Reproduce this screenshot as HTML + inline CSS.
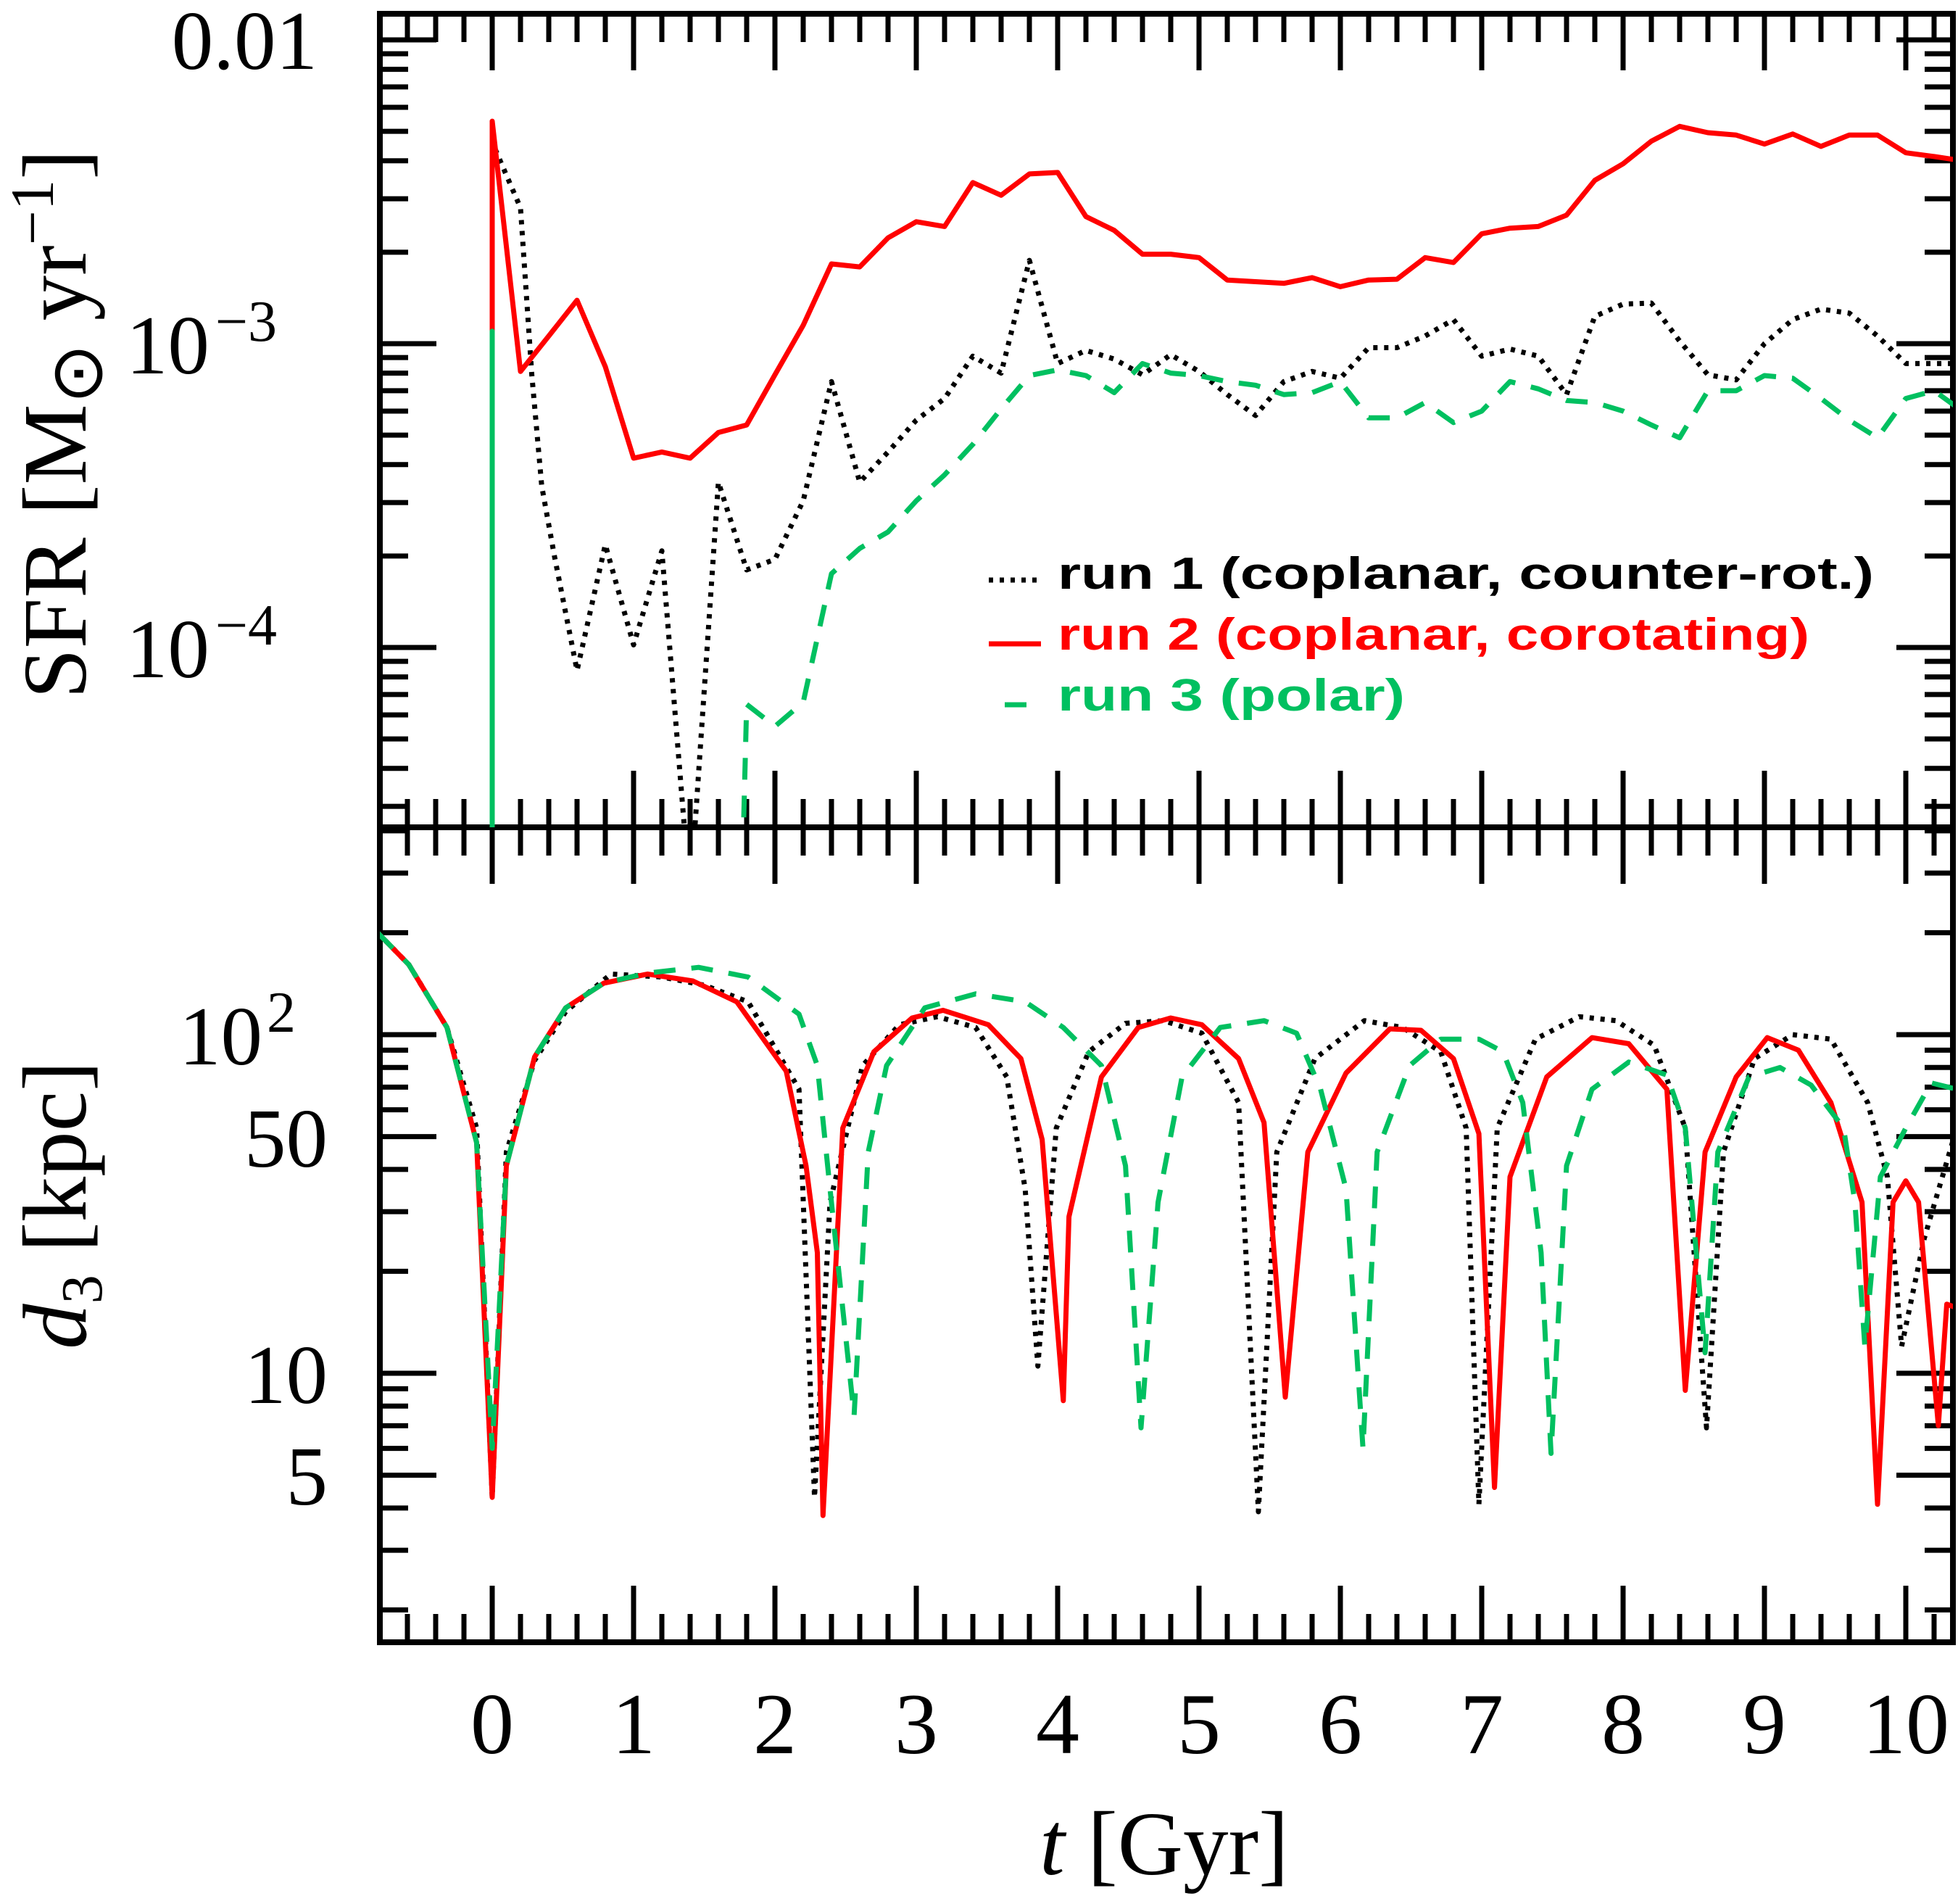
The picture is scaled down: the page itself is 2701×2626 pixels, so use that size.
<!DOCTYPE html>
<html><head><meta charset="utf-8">
<style>
html,body{margin:0;padding:0;background:#fff;}
svg{display:block;}
text{font-family:"Liberation Serif",serif;fill:#000;}
.leg{font-family:"Liberation Sans",sans-serif;font-weight:bold;}
</style></head>
<body>
<svg id="chart" width="2701" height="2626" viewBox="0 0 2701 2626" xmlns="http://www.w3.org/2000/svg">
<defs>
<clipPath id="clipTop"><rect x="524" y="19" width="2170" height="1122"/></clipPath>
<clipPath id="clipBot"><rect x="524" y="1141" width="2170" height="1124"/></clipPath>
</defs>
<g id="axes"></g>
<g id="seriesTop" clip-path="url(#clipTop)"></g>
<g id="seriesBot" clip-path="url(#clipBot)"></g>
<g id="labels">
<text x="438" y="95" font-size="115" text-anchor="end">0.01</text>
<text x="382" y="515" font-size="115" text-anchor="end">10<tspan font-size="80" dy="-45" dx="8">−3</tspan></text>
<text x="382" y="934" font-size="115" text-anchor="end">10<tspan font-size="80" dy="-45" dx="8">−4</tspan></text>
<text x="408" y="1468" font-size="115" text-anchor="end">10<tspan font-size="80" dy="-45" dx="6">2</tspan></text>
<text x="452" y="1609" font-size="115" text-anchor="end">50</text>
<text x="452" y="1935" font-size="115" text-anchor="end">10</text>
<text x="452" y="2075" font-size="115" text-anchor="end">5</text>
<text transform="translate(118,585) rotate(-90)" font-size="125" text-anchor="middle">SFR  [M<tspan font-size="100" dy="22">⊙</tspan><tspan dy="-22">  yr</tspan><tspan font-size="85" dy="-45">−1</tspan><tspan dy="45">]</tspan></text>
<text transform="translate(118,1662) rotate(-90)" font-size="125" text-anchor="middle"><tspan font-style="italic">d</tspan><tspan font-size="80" dy="22">3</tspan><tspan dy="-22">  [kpc]</tspan></text>
<text x="1606" y="2585" font-size="125" text-anchor="middle"><tspan font-style="italic">t</tspan>  [Gyr]</text>
</g>
<g id="legend">
<line x1="1364" y1="800" x2="1436" y2="800" stroke="#000" stroke-width="7" stroke-dasharray="6 9"/>
<text class="leg" x="1459" y="812" font-size="62" textLength="1126" lengthAdjust="spacingAndGlyphs">run 1 (coplanar, counter-rot.)</text>
<line x1="1364" y1="888" x2="1436" y2="888" stroke="#ff0000" stroke-width="7"/>
<text class="leg" x="1459" y="896" font-size="62" style="fill:#ff0000" textLength="1037" lengthAdjust="spacingAndGlyphs">run 2 (coplanar, corotating)</text>
<line x1="1364" y1="972" x2="1436" y2="972" stroke="#00c060" stroke-width="7" stroke-dasharray="30 22" stroke-dashoffset="-22"/>
<text class="leg" x="1459" y="980" font-size="62" style="fill:#00c060" textLength="479" lengthAdjust="spacingAndGlyphs">run 3 (polar)</text>
</g>
</svg>
<script>
// ---------- data: SFR panel ----------
const sfrRedT = [0,0,0.2,0.4,0.6,0.8,1.0,1.2,1.4,1.6,1.8,2.0,2.2,2.4,2.6,2.8,3.0,3.2,3.4,3.6,3.8,4.0,4.2,4.4,4.6,4.8,5.0,5.2,5.4,5.6,5.8,6.0,6.2,6.4,6.6,6.8,7.0,7.2,7.4,7.6,7.8,8.0,8.2,8.4,8.6,8.8,9.0,9.2,9.4,9.6,9.8,10.0,10.2,10.4];
const sfrRedV = [1e-6,5.4e-3,8.1e-4,1.06e-3,1.39e-3,8.4e-4,4.2e-4,4.4e-4,4.2e-4,5.1e-4,5.4e-4,7.9e-4,1.15e-3,1.83e-3,1.79e-3,2.23e-3,2.52e-3,2.43e-3,3.39e-3,3.08e-3,3.62e-3,3.66e-3,2.62e-3,2.36e-3,1.97e-3,1.97e-3,1.92e-3,1.62e-3,1.60e-3,1.58e-3,1.65e-3,1.54e-3,1.62e-3,1.63e-3,1.92e-3,1.85e-3,2.30e-3,2.40e-3,2.43e-3,2.65e-3,3.45e-3,3.91e-3,4.64e-3,5.19e-3,4.95e-3,4.86e-3,4.54e-3,4.90e-3,4.46e-3,4.86e-3,4.86e-3,4.25e-3,4.13e-3,4.0e-3];
const sfrBlackT = [0,0,0.2,0.28,0.35,0.44,0.6,0.8,1.0,1.2,1.4,1.6,1.8,2.0,2.2,2.4,2.6,2.8,3.0,3.2,3.4,3.6,3.8,4.0,4.2,4.4,4.6,4.8,5.0,5.2,5.4,5.6,5.8,6.0,6.2,6.4,6.6,6.8,7.0,7.2,7.4,7.6,7.8,8.0,8.2,8.4,8.6,8.8,9.0,9.2,9.4,9.6,9.8,10.0,10.2,10.4];
const sfrBlackV = [1e-6,4.6e-3,2.8e-3,7.9e-4,3.4e-4,2.0e-4,8.4e-5,2.18e-4,1.02e-4,2.08e-4,1.5e-5,3.5e-4,1.80e-4,1.95e-4,3.04e-4,7.5e-4,3.5e-4,4.4e-4,5.6e-4,6.6e-4,9.1e-4,8.0e-4,1.88e-3,8.6e-4,9.5e-4,8.9e-4,7.9e-4,9.2e-4,8.1e-4,6.8e-4,5.8e-4,7.5e-4,8.1e-4,7.7e-4,9.7e-4,9.7e-4,1.06e-3,1.20e-3,9.1e-4,9.6e-4,9.1e-4,6.8e-4,1.23e-3,1.35e-3,1.36e-3,1.02e-3,7.9e-4,7.6e-4,1.0e-3,1.20e-3,1.30e-3,1.26e-3,1.06e-3,8.6e-4,8.6e-4,8.6e-4];
const sfrGreenT = [0,0,0,1.70,1.8,2.0,2.2,2.4,2.6,2.8,3.0,3.2,3.4,3.6,3.8,4.0,4.2,4.4,4.6,4.8,5.0,5.2,5.4,5.6,5.8,6.0,6.2,6.4,6.6,6.8,7.0,7.2,7.4,7.6,7.8,8.0,8.2,8.4,8.6,8.8,9.0,9.2,9.4,9.6,9.8,10.0,10.2,10.4];
const sfrGreenV = [1e-6,1.1e-3,1e-6,1e-6,6.5e-5,5.5e-5,6.6e-5,1.75e-4,2.12e-4,2.4e-4,3.04e-4,3.7e-4,4.66e-4,6.1e-4,7.85e-4,8.2e-4,7.85e-4,6.9e-4,8.6e-4,8.0e-4,7.85e-4,7.5e-4,7.3e-4,6.8e-4,6.9e-4,7.5e-4,5.7e-4,5.7e-4,6.4e-4,5.5e-4,6.0e-4,7.5e-4,7.1e-4,6.5e-4,6.4e-4,6.0e-4,5.4e-4,4.9e-4,7.0e-4,7.0e-4,7.85e-4,7.7e-4,6.6e-4,5.6e-4,4.9e-4,6.6e-4,7.0e-4,6.0e-4];
// ---------- data: distance panel ----------
const dRedT = [-0.81,-0.59,-0.32,-0.11,0,0.10,0.30,0.52,0.79,1.10,1.42,1.73,2.08,2.22,2.30,2.34,2.48,2.70,2.97,3.19,3.51,3.74,3.89,4.04,4.08,4.31,4.57,4.80,5.02,5.28,5.46,5.61,5.77,6.04,6.35,6.57,6.80,6.98,7.09,7.20,7.46,7.78,8.04,8.31,8.44,8.58,8.80,9.02,9.24,9.47,9.69,9.80,9.91,10.00,10.09,10.23,10.29,10.36];
const dRedV = [200,161,105,48,4.3,41,86,120,142,151,144,125,78,41,22.7,3.8,53,89,112,118,107,85,49,8.3,29,75,105,112,107,85,55,8.5,45,77,104,103,85,51,4.6,38,75,98,94,69,8.9,45,75,98,90,63,32,4.1,32,37,32,7.0,16,15.6];
const dBlackT = [-0.81,-0.59,-0.32,-0.11,0,0.10,0.30,0.52,0.84,1.20,1.50,1.81,2.17,2.28,2.39,2.62,2.88,3.15,3.42,3.64,3.77,3.86,3.99,4.22,4.48,4.75,5.02,5.28,5.42,5.55,5.82,6.17,6.44,6.71,6.89,6.98,7.11,7.38,7.69,7.95,8.22,8.44,8.59,8.71,8.93,9.20,9.47,9.73,9.87,9.97,10.13,10.36];
const dBlackV = [200,161,105,53,4.3,45,84,117,151,148,140,125,69,4.3,32,81,107,113,105,75,35,10.5,53,89,108,110,101,63,3.9,45,85,110,105,89,53,4.1,53,97,113,110,93,53,6.9,45,85,100,97,63,38,12,25,53];
const dGreenT = [-0.81,-0.59,-0.32,-0.11,0,0.10,0.30,0.52,0.79,1.10,1.46,1.81,2.17,2.30,2.39,2.56,2.66,2.79,3.06,3.42,3.77,4.04,4.31,4.48,4.59,4.71,4.88,5.15,5.46,5.69,5.86,6.04,6.16,6.26,6.49,6.71,6.98,7.15,7.29,7.42,7.49,7.60,7.78,8.04,8.31,8.44,8.58,8.67,8.89,9.11,9.33,9.56,9.64,9.71,9.82,10.0,10.18,10.36];
const dGreenV = [200,161,105,48,6.0,41,86,120,142,152,158,148,115,81,35,7.5,45,81,120,132,125,105,81,41,6.9,32,75,105,110,101,69,35,6.0,45,81,97,97,89,63,22.7,5.8,41,69,83,76,53,11.5,45,75,80,71,53,32,12,38,53,72,69];
// tick data
const xMajor = [0,1,2,3,4,5,6,7,8,9,10];
const xLabels = ["0","1","2","3","4","5","6","7","8","9","10"];
const topMajor = [1e-4,1e-3,1e-2];
const botMajor = [5,10,50,100];

const NS = "http://www.w3.org/2000/svg";
const X = t => 679 + 195 * t;
const YT = v => 474 - 419 * (Math.log10(v) + 3);
const YB = v => 1427 - 467 * (Math.log10(v) - 2);
const L = 524, R = 2694, T0 = 19, MID = 1141, B = 2265;

function mk(tag, parent, attrs) {
  const e = document.createElementNS(NS, tag);
  for (const k in attrs) e.setAttribute(k, attrs[k]);
  parent.appendChild(e);
  return e;
}
const axes = document.getElementById('axes');

for (let i = -3; i <= 51; i++) {
  const t = i * 0.2;
  const x = X(t);
  if (x <= L + 2 || x >= R - 2) continue;
  const major = i % 5 === 0;
  const len = major ? 78 : 39;
  for (const [y0, dir] of [[T0, 1], [MID, -1], [MID, 1], [B, -1]]) {
    const ln = mk('line', axes, {x1: x, x2: x, y1: y0, y2: y0 + dir * len, stroke: '#000', 'stroke-width': 7});
    
    
  }
}
xMajor.forEach((t, i) => {
  const tx = mk('text', axes, {x: X(t), y: 2418, 'font-size': 120, 'text-anchor': 'middle'});
  tx.textContent = xLabels[i];
  
  
});

function yTicks(Yf, lo, hi, majors, yMin, yMax) {
  for (let d = lo; d <= hi; d++) {
    for (let m = 1; m <= 9; m++) {
      const v = m * Math.pow(10, d);
      const y = Yf(v);
      if (y <= yMin + 3 || y >= yMax - 3) continue;
      const major = majors.some(mv => Math.abs(Math.log10(mv) - Math.log10(v)) < 1e-6);
      const len = major ? 78 : 39;
      for (const [x0, dir] of [[L, 1], [R, -1]]) {
        const ln = mk('line', axes, {x1: x0, x2: x0 + dir * len, y1: y, y2: y, stroke: '#000', 'stroke-width': 7});
        
        
      }
    }
  }
}
yTicks(YT, -5, -2, topMajor, T0, MID);
yTicks(YB, 0, 2, botMajor, MID, B);

const f1 = mk('rect', axes, {x: L, y: T0, width: R - L, height: MID - T0, fill: 'none', stroke: '#000', 'stroke-width': 8});


const f2 = mk('rect', axes, {x: L, y: MID, width: R - L, height: B - MID, fill: 'none', stroke: '#000', 'stroke-width': 8});



function series(g, ts, vs, Yf, color, dash, name) {
  const pts = ts.map((t, i) => X(t).toFixed(1) + ',' + Yf(vs[i]).toFixed(1)).join(' ');
  const attrs = {points: pts, fill: 'none', stroke: color, 'stroke-width': 7, 'stroke-linejoin': 'round'};
  if (dash) attrs['stroke-dasharray'] = dash;
  const p = mk('polyline', g, attrs);
  
  
}
const gT = document.getElementById('seriesTop');
const gB = document.getElementById('seriesBot');
series(gT, sfrBlackT, sfrBlackV, YT, '#000', '6 9', 'sfr-run1-line');
series(gT, sfrRedT, sfrRedV, YT, '#ff0000', null, 'sfr-run2-line');
series(gT, sfrGreenT, sfrGreenV, YT, '#00c060', '30 22', 'sfr-run3-line');
series(gB, dBlackT, dBlackV, YB, '#000', '6 9', 'distance-run1-line');
series(gB, dRedT, dRedV, YB, '#ff0000', null, 'distance-run2-line');
series(gB, dGreenT, dGreenV, YB, '#00c060', '30 22', 'distance-run3-line');
</script>
</body></html>
